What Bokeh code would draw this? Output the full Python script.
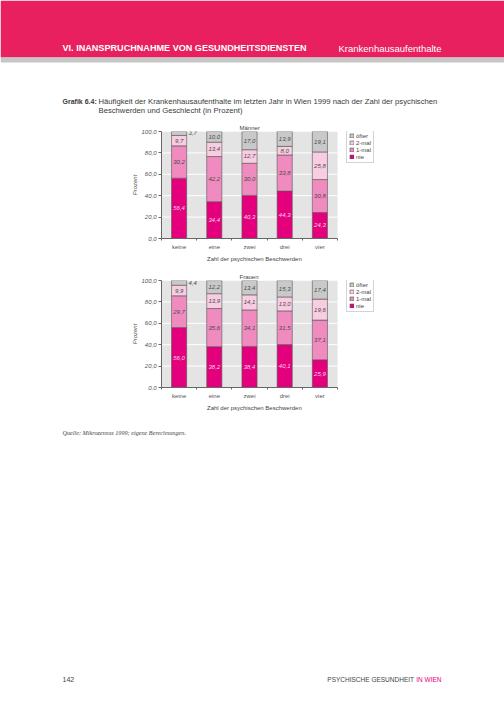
from bokeh.plotting import figure
from bokeh.models import Range1d, FixedTicker, Legend, LegendItem, ColumnDataSource, BoxAnnotation, Title
from bokeh.core.properties import value
from bokeh.embed import file_html
from bokeh.resources import INLINE

# ---------------- data ----------------
categories = ["keine", "eine", "zwei", "drei", "vier"]
stack_names = ["nie", "1-mal", "2-mal", "öfter"]

maenner_nie = [56.4, 34.4, 40.3, 44.3, 24.3]
maenner_1mal = [30.2, 42.2, 30.0, 33.8, 30.8]
maenner_2mal = [9.7, 13.4, 12.7, 8.0, 25.8]
maenner_oefter = [3.7, 10.0, 17.0, 13.9, 19.1]

frauen_nie = [56.0, 38.2, 38.4, 40.1, 25.9]
frauen_1mal = [29.7, 35.6, 34.1, 31.5, 37.1]
frauen_2mal = [9.9, 13.9, 14.1, 13.0, 19.6]
frauen_oefter = [4.4, 12.2, 13.4, 15.3, 17.4]

y_ticks = [0, 20, 40, 60, 80, 100]

# ---------------- styles ----------------
W = 504
FRAME_L, PLOT_W, FRAME_W, FRAME_H = 161, 176, 219, 110
PINK = "#e8205f"
MAGENTA = "#e6007e"
COLORS = ["#e4007c", "#f08bbf", "#f8cde2", "#c9c9c9"]
LABEL_COLORS = ["#fbd6ea", "#4a4a4a", "#4a4a4a", "#4a4a4a"]
TXT = "#3a3a3a"
SANS = value("Liberation Sans")
SERIF = value("Liberation Serif")


def make_chart(title, series, fig_h, top, bottom):
    n = len(categories)
    xs = [i + 0.5 for i in range(n)]
    keys = ["s0", "s1", "s2", "s3"]
    data = dict(x=xs)
    for k, vals in zip(keys, series):
        data[k] = vals
    src = ColumnDataSource(data)

    p = figure(width=W, height=fig_h,
               x_range=Range1d(0, n * FRAME_W / PLOT_W), y_range=Range1d(0, y_ticks[-1]),
               output_backend="svg", toolbar_location=None,
               min_border_left=FRAME_L, min_border_right=W - FRAME_L - FRAME_W,
               min_border_top=top, min_border_bottom=bottom)
    p.background_fill_color = "white"
    p.border_fill_color = "white"
    p.outline_line_color = None
    p.xgrid.visible = False
    p.ygrid.visible = False

    # grey plot area and white grid lines (only over the category area)
    p.quad(left=[0], right=[n], bottom=[y_ticks[0]], top=[y_ticks[-1]],
           fill_color="#e4e4e4", line_color=None, level="underlay")
    p.segment(x0=[0] * (len(y_ticks) - 2), x1=[n] * (len(y_ticks) - 2),
              y0=y_ticks[1:-1], y1=y_ticks[1:-1], line_color="white",
              line_width=1, level="underlay")

    rs = p.vbar_stack(keys, x="x", width=0.43, source=src,
                      fill_color=COLORS, line_color="#555555", line_width=0.6)

    # value labels
    lx, ly, lt, lc, la = [], [], [], [], []
    for i in range(n):
        base = 0.0
        for s, vals in enumerate(series):
            v = vals[i]
            txt = ("%.1f" % v).replace(".", ",")
            if v < 6:
                lx.append(xs[i] + 0.27)
                la.append("left")
            else:
                lx.append(xs[i])
                la.append("center")
            ly.append(base + v / 2)
            lt.append(txt)
            lc.append(LABEL_COLORS[s])
            base += v
    lsrc = ColumnDataSource(dict(x=lx, y=ly, t=lt, c=lc, a=la))
    p.text(x="x", y="y", text="t", source=lsrc, text_color="c", text_align="a",
           text_baseline="middle", text_font=SANS, text_font_style="italic",
           text_font_size="6px")

    # axes
    p.yaxis.ticker = FixedTicker(ticks=y_ticks)
    p.yaxis.major_label_overrides = {t: ("%d,0" % t) for t in y_ticks}
    p.yaxis.major_label_text_font = "Liberation Sans"
    p.yaxis.major_label_text_font_style = "italic"
    p.yaxis.major_label_text_font_size = "6px"
    p.yaxis.major_label_text_color = "#555555"
    p.yaxis.major_tick_out = 3
    p.yaxis.major_tick_in = 0
    p.yaxis.minor_tick_out = 0
    p.yaxis.minor_tick_in = 0
    p.yaxis.axis_line_color = "#666666"
    p.yaxis.major_tick_line_color = "#666666"
    p.yaxis.major_label_standoff = 2
    p.yaxis.axis_label = "Prozent"
    p.yaxis.axis_label_text_font = "Liberation Sans"
    p.yaxis.axis_label_text_font_style = "italic"
    p.yaxis.axis_label_text_font_size = "6px"
    p.yaxis.axis_label_text_color = "#555555"
    p.yaxis.axis_label_standoff = 0

    p.xaxis.bounds = (0, n)
    p.xaxis.ticker = FixedTicker(ticks=xs, minor_ticks=list(range(n + 1)))
    p.xaxis.major_label_overrides = {x: c for x, c in zip(xs, categories)}
    p.xaxis.major_label_text_font = "Liberation Sans"
    p.xaxis.major_label_text_font_size = "6px"
    p.xaxis.major_label_text_color = "#555555"
    p.xaxis.major_tick_out = 0
    p.xaxis.major_tick_in = 0
    p.xaxis.minor_tick_out = 2
    p.xaxis.minor_tick_in = 0
    p.xaxis.minor_tick_line_color = "#666666"
    p.xaxis.axis_line_color = "#666666"
    p.xaxis.major_label_standoff = 3

    # axis title below, centred on the category area
    xt = Title(text="Zahl der psychischen Beschwerden", align="left", offset=45.5,
               text_font="Liberation Sans", text_font_style="normal",
               text_font_size="6px", text_color="#444444", standoff=3)
    p.add_layout(xt, "below")

    p.title.text = title
    p.title.align = "left"
    p.title.text_font = "Liberation Sans"
    p.title.text_font_style = "normal"
    p.title.text_font_size = "6px"
    p.title.text_color = "#444444"
    p.title.offset = 78
    p.title.standoff = 2

    items = [LegendItem(label=stack_names[s], renderers=[rs[s]]) for s in (3, 2, 1, 0)]
    leg = Legend(items=items, location=(PLOT_W + 9, FRAME_H - 35), orientation="vertical")
    leg.glyph_width = 5
    leg.glyph_height = 5
    leg.label_text_font = "Liberation Sans"
    leg.label_text_font_size = "6px"
    leg.label_text_color = "#444444"
    leg.label_height = 7
    leg.label_width = 14
    leg.label_standoff = 2
    leg.spacing = 0
    leg.padding = 2
    leg.margin = 0
    leg.background_fill_color = "white"
    leg.background_fill_alpha = 1
    leg.border_line_color = "#aaaaaa"
    leg.border_line_width = 0.6
    p.add_layout(leg, "center")
    return p


def page_fig(y0, y1):
    p = figure(width=W, height=int(y1 - y0), x_range=Range1d(0, W), y_range=Range1d(y1, y0),
               x_axis_type=None, y_axis_type=None, output_backend="svg",
               toolbar_location=None, min_border=0)
    p.outline_line_color = None
    p.background_fill_color = "white"
    p.border_fill_color = "white"
    return p


# ---------------- header ----------------
hd = page_fig(0, 118)
hd.add_layout(BoxAnnotation(left=0, right=W, top=0, bottom=57, fill_color=PINK,
                            fill_alpha=1, line_color=None, level="underlay"))
hd.add_layout(BoxAnnotation(left=0, right=W, top=57, bottom=62, fill_color="#c6c6c6",
                            fill_alpha=1, line_color=None, level="underlay"))
hd.text(x=[62], y=[47.5], text=["VI. INANSPRUCHNAHME VON GESUNDHEITSDIENSTEN"],
        text_font=SANS, text_font_style="bold", text_font_size="9.1px",
        text_color="white", text_baseline="alphabetic")
hd.text(x=[338], y=[47.5], text=["Krankenhausaufenthalte"],
        text_font=SANS, text_font_size="9.5px", text_color="white",
        text_baseline="alphabetic")
hd.text(x=[62], y=[101], text=["Grafik 6.4:"], text_font=SANS, text_font_style="bold",
        text_font_size="7px", text_color=TXT, text_baseline="alphabetic")
hd.text(x=[98, 98], y=[101, 110],
        text=["Häufigkeit der Krankenhausaufenthalte im letzten Jahr in Wien 1999 nach der Zahl der psychischen",
              "Beschwerden und Geschlecht (in Prozent)"],
        text_font=SANS, text_font_size="7.7px", text_color=TXT, text_baseline="alphabetic")

# ---------------- charts ----------------
pm = make_chart("Männer", [maenner_nie, maenner_1mal, maenner_2mal, maenner_oefter], 145, 13, 22)
pf = make_chart("Frauen", [frauen_nie, frauen_1mal, frauen_2mal, frauen_oefter], 149, 17, 22)

# ---------------- footer ----------------
ft = page_fig(412, 710)
ft.text(x=[62], y=[432], text=["Quelle:  Mikrozensus 1999; eigene Berechnungen."],
        text_font=SERIF, text_font_style="italic", text_font_size="6.2px",
        text_color="#444444", text_baseline="alphabetic")
ft.text(x=[62], y=[679], text=["142"], text_font=SANS, text_font_size="7px",
        text_color="#444444", text_baseline="alphabetic")
ft.text(x=[441], y=[679], text=["IN WIEN"], text_font=SANS, text_font_size="6.5px",
        text_color=MAGENTA, text_align="right", text_baseline="alphabetic")
ft.text(x=[413.5], y=[679], text=["PSYCHISCHE GESUNDHEIT"], text_font=SANS,
        text_font_size="6.5px", text_color="#444444", text_align="right",
        text_baseline="alphabetic")

p = [hd, pm, pf, ft]
open("out.html", "w").write(file_html(p, INLINE))
